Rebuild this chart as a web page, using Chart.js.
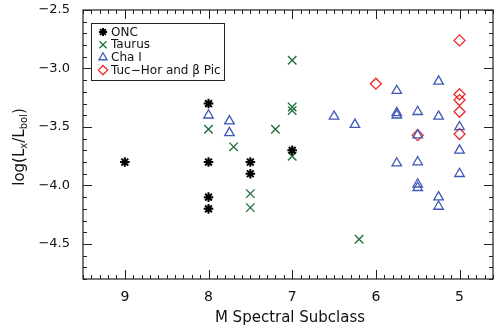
<!DOCTYPE html>
<html>
<head>
<meta charset="utf-8">
<script src="https://cdn.jsdelivr.net/npm/chart.js@4"></script>
<style>
  html, body { margin:0; padding:0; background:#fff; }
  #wrap { width:494px; height:330px; }
</style>
</head>
<body>
<div id="wrap"><canvas id="grafico" width="494" height="330"></canvas></div>
<script>
// valori
const oncX = [9, 8, 8, 8, 8, 7.5, 7.5, 7];
const oncY = [-3.80, -3.30, -3.80, -4.10, -4.20, -3.80, -3.90, -3.70];

const taurusX = [8, 7.7, 7.2, 7, 7, 7, 7, 7.5, 7.5, 6.2];
const taurusY = [-3.52, -3.67, -3.52, -2.93, -3.33, -3.36, -3.75, -4.07, -4.19, -4.46];

const chaX = [8, 7.75, 7.75, 6.5, 6.25, 5.75, 5.75, 5.75, 5.75, 5.5, 5.5, 5.5, 5.5, 5.5, 5.25, 5.25, 5.25, 5.25, 5, 5, 5];
const chaY = [-3.40, -3.45, -3.55, -3.41, -3.48, -3.19, -3.38, -3.40, -3.81, -3.37, -3.57, -3.80, -3.99, -4.02, -3.11, -3.41, -4.10, -4.18, -3.50, -3.70, -3.90];

const tucX = [6, 5.5, 5, 5, 5, 5, 5];
const tucY = [-3.13, -3.57, -2.76, -3.22, -3.27, -3.37, -3.56];

const xTicks = [9, 8, 7, 6, 5];
const yTicks = [-4.5, -4.0, -3.5, -3.0, -2.5];
const labels = ['ONC', 'Taurus', 'Cha I', 'Tuc\u2212Hor and \u03b2 Pic'];

const FONT = '"DejaVu Sans", sans-serif';
const pts = (xs, ys) => xs.map((x, i) => ({x: x, y: ys[i]}));

// cornice con tacche verso l'interno, stile IDL
const framePlugin = {
  id: 'frame',
  afterDraw(chart) {
    const {ctx, chartArea: a, scales: {x, y}} = chart;
    ctx.save();
    ctx.strokeStyle = '#222';
    ctx.lineWidth = 1.2;
    ctx.strokeRect(a.left, a.top, a.right - a.left, a.bottom - a.top);
    ctx.lineWidth = 1;
    ctx.beginPath();
    for (let i = 46; i <= 95; i++) {
      const v = i / 10;
      const px = Math.round(x.getPixelForValue(v)) + 0.5;
      const len = (i % 10 === 0) ? 9 : 4;
      ctx.moveTo(px, a.bottom); ctx.lineTo(px, a.bottom - len);
      ctx.moveTo(px, a.top); ctx.lineTo(px, a.top + len);
    }
    for (let i = -48; i <= -25; i++) {
      const v = i / 10;
      const py = Math.round(y.getPixelForValue(v)) + 0.5;
      const len = (i % 5 === 0) ? 9 : 4;
      ctx.moveTo(a.left, py); ctx.lineTo(a.left + len, py);
      ctx.moveTo(a.right, py); ctx.lineTo(a.right - len, py);
    }
    ctx.stroke();

    // titolo asse y con pedici
    ctx.fillStyle = '#111';
    ctx.translate(20, 147);
    ctx.rotate(-Math.PI / 2);
    ctx.textBaseline = 'middle';
    const big = '15px ' + FONT, small = '10px ' + FONT;
    const parts = [['log(L', big, 0], ['x', small, 4], ['/L', big, 0], ['bol', small, 4], [')', big, 0]];
    let w = 0;
    parts.forEach(p => { ctx.font = p[1]; w += ctx.measureText(p[0]).width; });
    let cx = -w / 2;
    parts.forEach(p => { ctx.font = p[1]; ctx.fillText(p[0], cx, p[2]); cx += ctx.measureText(p[0]).width; });
    ctx.restore();

    // titolo asse x
    ctx.save();
    ctx.fillStyle = '#111';
    ctx.font = '15px ' + FONT;
    ctx.textAlign = 'center';
    ctx.textBaseline = 'middle';
    ctx.fillText('M Spectral Subclass', 290, 318);
    ctx.restore();

    // legenda in riquadro
    ctx.save();
    ctx.fillStyle = '#fff';
    ctx.fillRect(91, 23, 133, 57);
    ctx.strokeStyle = '#222';
    ctx.lineWidth = 1;
    ctx.strokeRect(91.5, 23.5, 133, 57);
    ctx.font = '12px ' + FONT;
    ctx.textBaseline = 'middle';
    chart.data.datasets.forEach((ds, i) => {
      const yy = 32 + i * 12.7;
      ctx.strokeStyle = ds.borderColor;
      ctx.fillStyle = 'rgba(0,0,0,0)';
      ctx.lineWidth = ds.borderWidth;
      Chart.helpers.drawPoint(ctx, {pointStyle: ds.pointStyle, radius: ds.pointRadius * 0.85, borderWidth: ds.borderWidth, rotation: 0}, 103, yy);
      ctx.fillStyle = '#111';
      ctx.fillText(ds.label, 111, yy + 0.5);
    });
    ctx.restore();
  }
};

new Chart(document.getElementById('grafico'), {
  type: 'scatter',
  data: {
    datasets: [
      { label: labels[0], data: pts(oncX, oncY), pointStyle: 'star', pointRadius: 4.8,
        borderColor: '#000', backgroundColor: 'rgba(0,0,0,0)', borderWidth: 2 },
      { label: labels[1], data: pts(taurusX, taurusY), pointStyle: 'crossRot', pointRadius: 6,
        borderColor: '#1c6b35', backgroundColor: 'rgba(0,0,0,0)', borderWidth: 1.3 },
      { label: labels[2], data: pts(chaX, chaY), pointStyle: 'triangle', pointRadius: 5.5,
        borderColor: '#3f57b8', backgroundColor: 'rgba(0,0,0,0)', borderWidth: 1.3 },
      { label: labels[3], data: pts(tucX, tucY), pointStyle: 'rectRot', pointRadius: 5.5,
        borderColor: '#f02828', backgroundColor: 'rgba(0,0,0,0)', borderWidth: 1.3 }
    ]
  },
  options: {
    responsive: false,
    animation: false,
    layout: { autoPadding: false, padding: { top: 10, right: 1, left: 0, bottom: 0 } },
    plugins: { legend: { display: false }, tooltip: { enabled: false } },
    scales: {
      x: {
        type: 'linear', reverse: true, min: 4.6, max: 9.5,
        border: { display: false },
        grid: { display: false, drawTicks: false },
        afterBuildTicks: s => { s.ticks = xTicks.map(v => ({value: v})); },
        afterFit: s => { s.height = 51; s.paddingLeft = 0; s.paddingRight = 0; },
        ticks: { padding: 10, color: '#111', font: { family: FONT, size: 14 }, maxRotation: 0,
                 callback: v => String(v) }
      },
      y: {
        type: 'linear', min: -4.8, max: -2.5,
        border: { display: false },
        grid: { display: false, drawTicks: false },
        afterBuildTicks: s => { s.ticks = yTicks.map(v => ({value: v})); },
        afterFit: s => { s.width = 83; s.paddingTop = 0; s.paddingBottom = 0; },
        ticks: { padding: 13, color: '#111', font: { family: FONT, size: 13 },
                 callback: v => v.toFixed(1).replace('-', '\u2212') }
      }
    }
  },
  plugins: [framePlugin]
});
</script>
</body>
</html>
